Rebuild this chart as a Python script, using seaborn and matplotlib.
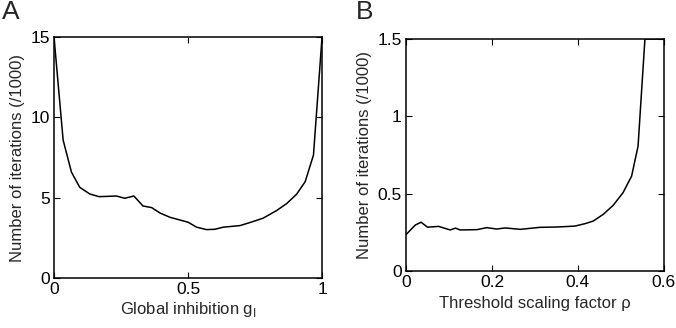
import numpy as np
import pandas as pd
import matplotlib
matplotlib.use("Agg")
import matplotlib.pyplot as plt
import seaborn as sns

# Panel A data
gi = [0.0, 0.034, 0.065, 0.096, 0.133, 0.168, 0.233, 0.264, 0.298, 0.332, 0.364,
      0.397, 0.432, 0.469, 0.5, 0.532, 0.569, 0.6, 0.631, 0.694, 0.731, 0.78,
      0.83, 0.868, 0.905, 0.937, 0.968, 1.0]
iters_a = [15.0, 8.59, 6.6, 5.65, 5.24, 5.07, 5.11, 4.97, 5.11, 4.49, 4.39,
           4.04, 3.79, 3.62, 3.48, 3.17, 3.02, 3.04, 3.17, 3.27, 3.46, 3.73,
           4.2, 4.64, 5.22, 6.0, 7.66, 15.0]

# Panel B data
rho = [0.0, 0.0217, 0.035, 0.05, 0.076, 0.103, 0.115, 0.126, 0.165, 0.188, 0.211,
       0.231, 0.266, 0.312, 0.351, 0.393, 0.417, 0.436, 0.459, 0.482, 0.505,
       0.525, 0.540, 0.556, 0.6]
iters_b = [0.235, 0.297, 0.315, 0.283, 0.288, 0.265, 0.277, 0.265, 0.267, 0.28, 0.271,
           0.278, 0.269, 0.282, 0.284, 0.29, 0.306, 0.323, 0.366, 0.424, 0.506,
           0.613, 0.807, 1.5, 1.5]

xticks_a = [0, 0.5, 1]
xticklabels_a = ["0", "0.5", "1"]
yticks_a = [0, 5, 10, 15]
xticks_b = [0, 0.2, 0.4, 0.6]
xticklabels_b = ["0", "0.2", "0.4", "0.6"]
yticks_b = [0, 0.5, 1, 1.5]
yticklabels_b = ["0", "0.5", "1", "1.5"]

sns.set_style("ticks")
plt.rcParams['font.family'] = ['Liberation Sans', 'DejaVu Sans']
plt.rcParams['mathtext.fontset'] = 'custom'
plt.rcParams['mathtext.rm'] = 'Liberation Sans'

fig = plt.figure(figsize=(6.76, 3.28), dpi=100)
axA = fig.add_axes([0.0799, 0.152, 0.3965, 0.735])
axB = fig.add_axes([0.6006, 0.174, 0.3814, 0.707])

dfa = pd.DataFrame({"g": gi, "n": iters_a})
dfb = pd.DataFrame({"r": rho, "n": iters_b})
sns.lineplot(data=dfa, x="g", y="n", ax=axA, color="black", lw=1.1)
sns.lineplot(data=dfb, x="r", y="n", ax=axB, color="black", lw=1.1)

for ax in (axA, axB):
    for s in ax.spines.values():
        s.set_visible(True)
        s.set_linewidth(1.1)
        s.set_color("black")
    ax.tick_params(direction="in", top=True, right=True, length=4, width=0.8,
                   labelsize=12.5, pad=3, colors="black")

axA.set_xlim(0, 1)
axA.set_ylim(0, 15)
axA.set_xticks(xticks_a)
axA.set_xticklabels(xticklabels_a)
axA.set_yticks(yticks_a)
axA.set_xlabel(r"Global inhibition g$_\mathregular{I}$", fontsize=12, labelpad=2)
axA.set_ylabel("Number of iterations (/1000)", fontsize=12, labelpad=4)

axB.set_xlim(0, 0.6)
axB.set_ylim(0, 1.5)
axB.set_xticks(xticks_b)
axB.set_xticklabels(xticklabels_b)
axB.set_yticks(yticks_b)
axB.set_yticklabels(yticklabels_b)
axB.set_xlabel("Threshold scaling factor ρ", fontsize=12, labelpad=4)
axB.set_ylabel("Number of iterations (/1000)", fontsize=12, labelpad=4)

fig.text(0.003, 1.0, "A", fontsize=19, va="top", ha="left")
fig.text(0.526, 1.0, "B", fontsize=19, va="top", ha="left")

fig.savefig("out.png", dpi=100)
